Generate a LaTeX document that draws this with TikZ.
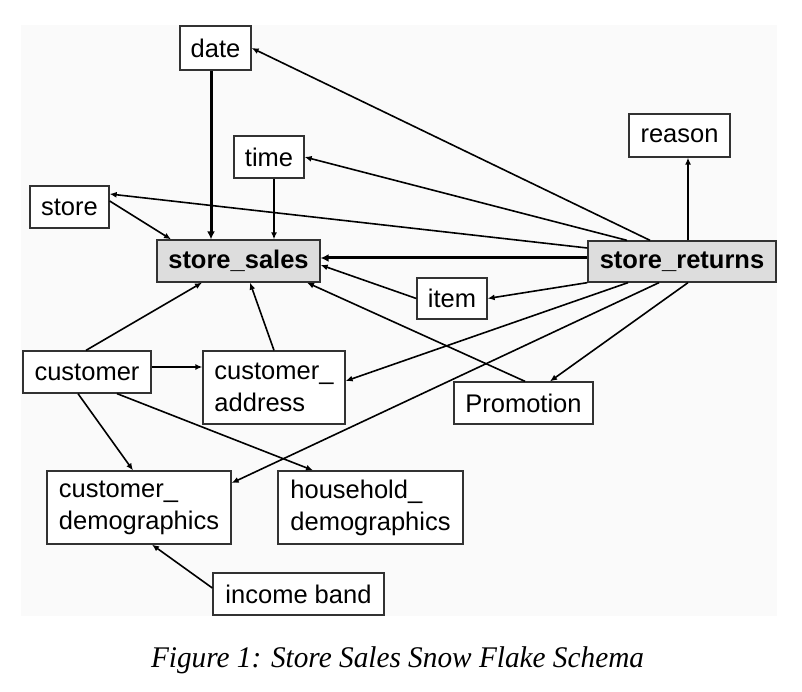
\documentclass[tikz,border=0pt]{standalone}
\usepackage{fontspec}
\setmainfont{Liberation Sans}
\newfontfamily\capfont{Liberation Serif}
\usetikzlibrary{arrows.meta}
\definecolor{bgpanel}{RGB}{250,250,250}
\definecolor{factfill}{RGB}{221,221,221}
\definecolor{boxline}{RGB}{50,50,50}
\begin{document}
\begin{tikzpicture}[x=1pt,y=-1pt,
  tbl/.style={draw=boxline,line width=1.3pt,fill=white,inner sep=0pt,
    font=\fontsize{25.5}{32}\selectfont,align=left},
  fact/.style={tbl,fill=factfill,font=\fontsize{25.5}{32}\selectfont\bfseries},
  fk/.style={draw=black,line width=1.6pt,-{Latex[length=7pt,width=6pt]}},
  fkthick/.style={fk,line width=3pt,-{Latex[length=8pt,width=8pt]}}]
\useasboundingbox (0,0) rectangle (802,692);
\fill[bgpanel] (21,25) rectangle (777,616);
% nodes
\node[tbl,minimum width=71pt,minimum height=44pt] (date) at (215.5,48) {date};
\node[tbl,minimum width=70pt,minimum height=42pt] (time) at (269,157) {time};
\node[tbl,minimum width=79pt,minimum height=42pt] (store) at (69.5,207) {store};
\node[fact,minimum width=163pt,minimum height=42pt] (ss) at (238.5,261) {store\_sales};
\node[tbl,minimum width=101pt,minimum height=43pt] (reason) at (679.5,135.5) {reason};
\node[fact,minimum width=188pt,minimum height=41pt] (sr) at (682,261.5) {store\_returns};
\node[tbl,minimum width=70pt,minimum height=41pt] (item) at (452,298.5) {item};
\node[tbl,minimum width=139pt,minimum height=42pt] (promo) at (523.5,403) {Promotion};
\node[tbl,minimum width=128pt,minimum height=42pt] (cust) at (87,372) {customer};
\node[tbl,minimum width=142pt,minimum height=73pt] (ca) at (274,387.5) {customer\_\\address};
\node[tbl,minimum width=184pt,minimum height=73pt] (cd) at (139,507.5) {customer\_\\demographics};
\node[tbl,minimum width=185pt,minimum height=73pt] (hd) at (370.5,507.5) {household\_\\demographics};
\node[tbl,minimum width=171pt,minimum height=42pt] (ib) at (298.5,594) {income band};
% connectors
\draw[fkthick] ([xshift=-4.5pt]date.south) -- ([xshift=-27.5pt]ss.north);
\draw[fk] ([xshift=5pt]time.south) -- ([xshift=35.5pt]ss.north);
\draw[fk] ([yshift=6pt]store.east) -- ([xshift=-67.5pt]ss.north);
\draw[fk] ([yshift=13.5pt]sr.west) -- ([yshift=13pt]store.east);
\draw[fk] ([xshift=-55pt]sr.north) -- (time.east);
\draw[fk] ([xshift=-32pt]sr.north) -- (date.east);
\draw[fkthick] ([yshift=3.5pt]sr.west) -- ([yshift=3pt]ss.east);
\draw[fk] (sr.south west) -- (item.east);
\draw[fk] (item.west) -- ([yshift=-4pt]ss.east);
\draw[fk] ([xshift=1.5pt]promo.north) -- ([xshift=68.5pt]ss.south);
\draw[fk] ([xshift=6pt]sr.south) -- ([xshift=26.5pt]promo.north);
\draw[fk] ([xshift=-54pt]sr.south) -- ([yshift=6.5pt]ca.east);
\draw[fk] ([xshift=-23pt]sr.south) -- ([yshift=24.5pt]cd.east);
\draw[fk] ([xshift=-1pt]cust.north) -- ([xshift=-36.5pt]ss.south);
\draw[fk] (ca.north) -- ([xshift=11.5pt]ss.south);
\draw[fk,line width=2.4pt] ([yshift=5pt]cust.east) -- ([yshift=20.5pt]ca.west);
\draw[fk] ([xshift=-9pt]cust.south) -- ([xshift=-6pt]cd.north);
\draw[fk] ([xshift=30pt]cust.south) -- ([xshift=-57.5pt]hd.north);
\draw[fk] ([yshift=6pt]ib.west) -- ([xshift=13pt]cd.south);
\draw[fk] ([xshift=6pt]sr.north) -- ([xshift=8.5pt]reason.south);
% caption
\node[inner sep=0pt] (caption) at (397.5,660) {\resizebox{493pt}{\height}{\capfont\itshape\fontsize{30}{36}\selectfont Figure 1: Store Sales Snow Flake Schema}};
\end{tikzpicture}
\end{document}
